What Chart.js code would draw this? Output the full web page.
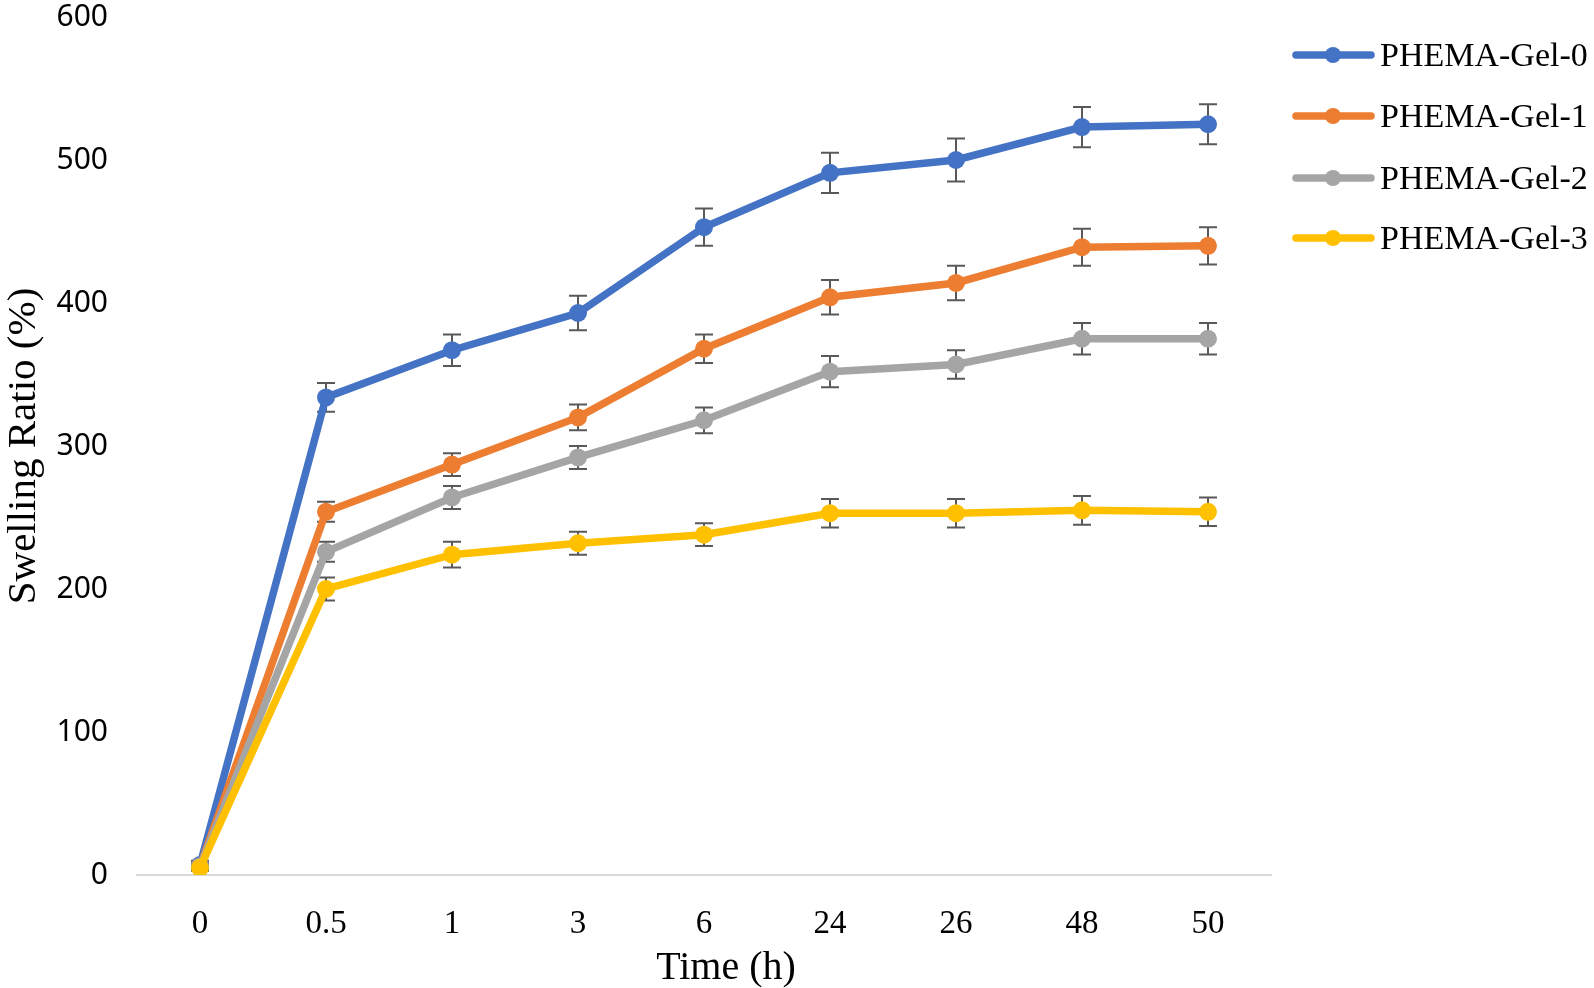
<!DOCTYPE html>
<html>
<head>
<meta charset="utf-8">
<script src="https://cdn.jsdelivr.net/npm/chart.js@4/dist/chart.umd.min.js"></script>
<style>
html,body{margin:0;padding:0;background:#fff;}
#wrap{width:1594px;height:988px;position:relative;}
</style>
</head>
<body>
<div id="wrap"><canvas id="c" width="1594" height="988"></canvas></div>
<script>
// ---- data ----
const timeLabels = ['0', '0.5', '1', '3', '6', '24', '26', '48', '50'];
const seriesNames = ['PHEMA-Gel-0', 'PHEMA-Gel-1', 'PHEMA-Gel-2', 'PHEMA-Gel-3'];
const gel0 = [7, 334, 367, 393, 453, 491, 500, 523, 525];
const gel1 = [6, 254, 287, 320, 368, 404, 414, 439, 440];
const gel2 = [6, 226, 264, 292, 318, 352, 357, 375, 375];
const gel3 = [5, 200, 224, 232, 238, 253, 253, 255, 254];
const err0 = [3, 10, 11, 12, 13, 14, 15, 14, 14];
const err1 = [2, 7, 8, 9, 10, 12, 12, 13, 13];
const err2 = [2, 7, 8, 8, 9, 11, 10, 11, 11];
const err3 = [2, 8, 9, 8, 8, 10, 10, 10, 10];
const yTicks = [0, 100, 200, 300, 400, 500, 600];
const xTitle = 'Time (h)';
const yTitle = 'Swelling Ratio (%)';

const colors = ['#4472C4', '#ED7D31', '#A5A5A5', '#FFC000'];
const values = [gel0, gel1, gel2, gel3];
const errors = [err0, err1, err2, err3];

const SERIF = '"Liberation Serif", "Times New Roman", serif';
const SANS = '"Noto Sans", "Open Sans", sans-serif';

const datasets = values.map((v, i) => ({
  label: seriesNames[i],
  data: v,
  errors: errors[i],
  borderColor: colors[i],
  backgroundColor: colors[i],
  pointBackgroundColor: colors[i],
  pointBorderColor: colors[i],
  pointBorderWidth: 0,
  pointRadius: 9,
  borderWidth: 7.5,
  tension: 0,
  order: 3 - i
}));

const errorBarPlugin = {
  id: 'errorBars',
  beforeDatasetsDraw(chart) {
    const ctx = chart.ctx;
    const ys = chart.scales.y;
    ctx.save();
    ctx.strokeStyle = '#595959';
    ctx.lineWidth = 2;
    chart.data.datasets.forEach((ds, di) => {
      const meta = chart.getDatasetMeta(di);
      meta.data.forEach((pt, i) => {
        const v = ds.data[i], e = ds.errors[i];
        const x = pt.x;
        const yT = ys.getPixelForValue(v + e);
        const yB = ys.getPixelForValue(v - e);
        ctx.beginPath();
        ctx.moveTo(x, yT); ctx.lineTo(x, yB);
        ctx.moveTo(x - 9, yT); ctx.lineTo(x + 9, yT);
        ctx.moveTo(x - 9, yB); ctx.lineTo(x + 9, yB);
        ctx.stroke();
      });
    });
    ctx.restore();
  }
};

const extrasPlugin = {
  id: 'extras',
  afterDraw(chart) {
    const ctx = chart.ctx;
    ctx.save();
    // x axis title
    ctx.fillStyle = '#000';
    ctx.font = '40px ' + SERIF;
    ctx.textAlign = 'center';
    ctx.textBaseline = 'alphabetic';
    ctx.fillText(xTitle, 726, 979);
    // legend
    const rowY = [55, 116, 178, 238];
    chart.data.datasets.forEach((ds, i) => {
      const y = rowY[i];
      ctx.strokeStyle = ds.borderColor;
      ctx.lineWidth = 7.5;
      ctx.lineCap = 'round';
      ctx.beginPath();
      ctx.moveTo(1296, y); ctx.lineTo(1371, y);
      ctx.stroke();
      ctx.fillStyle = ds.borderColor;
      ctx.beginPath();
      ctx.arc(1333, y, 8, 0, Math.PI * 2);
      ctx.fill();
      ctx.fillStyle = '#000';
      ctx.font = '34px ' + SERIF;
      ctx.textAlign = 'left';
      ctx.textBaseline = 'alphabetic';
      ctx.fillText(ds.label, 1380, y + 11);
    });
    ctx.restore();
  }
};

new Chart(document.getElementById('c'), {
  type: 'line',
  data: { labels: timeLabels, datasets },
  options: {
    responsive: false,
    animation: false,
    devicePixelRatio: 1,
    layout: { autoPadding: false, padding: { left: 0, right: 323, top: 17, bottom: 0 } },
    plugins: { legend: { display: false }, tooltip: { enabled: false } },
    scales: {
      x: {
        type: 'category',
        offset: true,
        grid: { display: false },
        border: { display: true, color: '#d9d9d9', width: 2 },
        ticks: { font: { family: SERIF, size: 33 }, color: '#000', padding: 22, maxRotation: 0, autoSkip: false },
        afterFit(s) { s.height = 113; }
      },
      y: {
        min: 0, max: 600,
        afterBuildTicks(s) { s.ticks = yTicks.map(v => ({ value: v })); },
        ticks: { font: { family: SANS, size: 30 }, color: '#000', padding: 29 },
        grid: { display: false, drawTicks: false },
        border: { display: false },
        title: { display: true, text: yTitle, font: { family: SERIF, size: 41 }, color: '#000', padding: { top: 0, bottom: 0 } },
        afterFit(s) { s.width = 137; s.paddingTop = 0; }
      }
    }
  },
  plugins: [errorBarPlugin, extrasPlugin]
});
</script>
</body>
</html>
